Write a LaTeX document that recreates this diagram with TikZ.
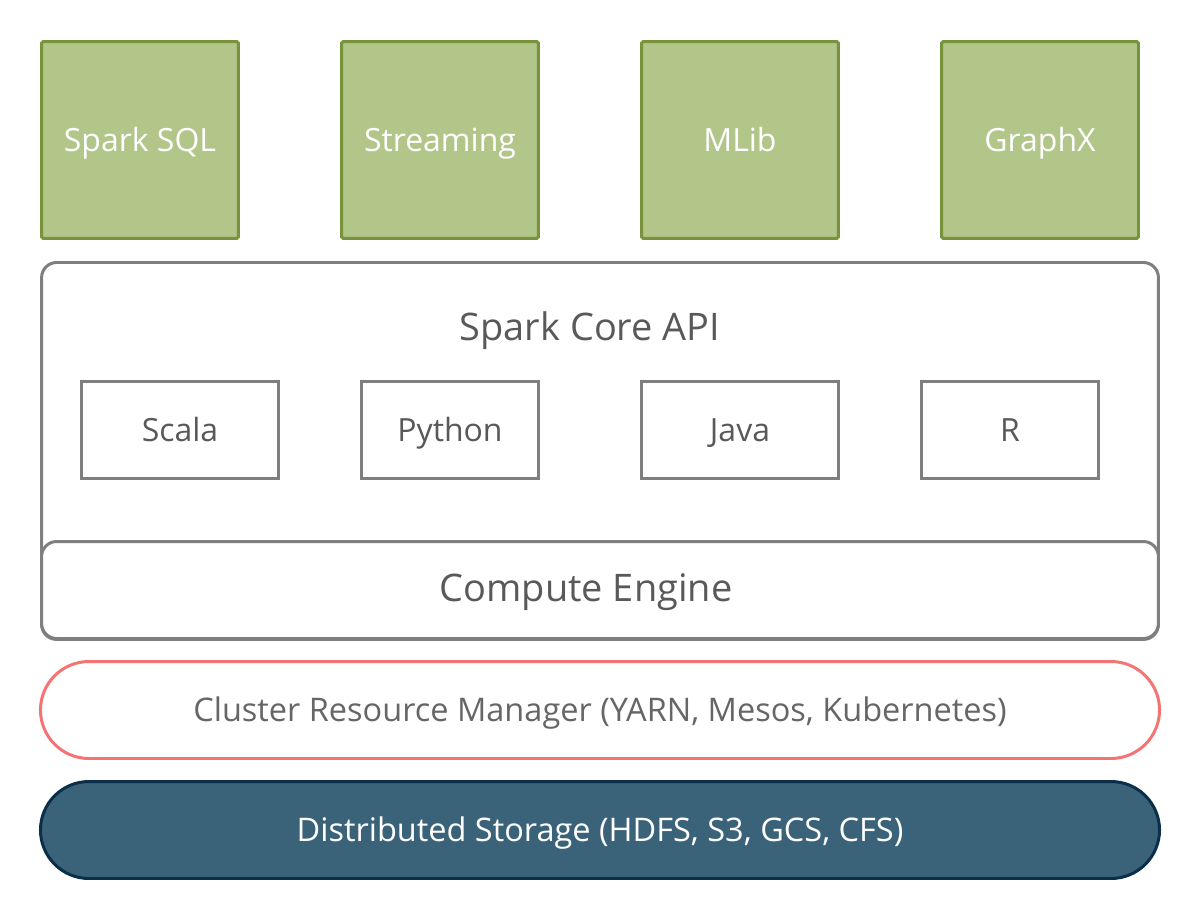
\documentclass[tikz,border=0pt]{standalone}
\usepackage{fontspec}
\setmainfont{Open Sans}
\usetikzlibrary{positioning,shapes.misc}
\definecolor{libfill}{HTML}{B3C68A}
\definecolor{libdraw}{HTML}{77933C}
\definecolor{coredraw}{HTML}{7F7F7F}
\definecolor{coretext}{HTML}{595959}
\definecolor{mgrdraw}{HTML}{F47474}
\definecolor{mgrtext}{HTML}{666666}
\definecolor{storefill}{HTML}{3A6278}
\definecolor{storedraw}{HTML}{0B2E4B}
\begin{document}
\begin{tikzpicture}[x=0.02cm,y=-0.02cm,
  lib/.style={rectangle, draw=libdraw, fill=libfill, line width=1.7pt, rounded corners=1pt, minimum width=3.94cm, minimum height=3.94cm, text=white, text height=1.55em, text depth=0.22em, font=\fontsize{18.2}{21}\selectfont},
  lang/.style={rectangle, draw=coredraw, line width=1.7pt, minimum height=1.94cm, text=coretext, text height=1.5em, text depth=0.22em, font=\fontsize{18.2}{21}\selectfont},
  layer/.style={rectangle, draw=coredraw, fill=white, line width=1.7pt, rounded corners=0.3cm, minimum width=22.34cm},
  caption/.style={text=coretext, text height=1.22em, text depth=0.24em, font=\fontsize{21.6}{25}\selectfont},
  band/.style={rounded rectangle, line width=1.7pt, minimum width=22.62cm, minimum height=1.94cm, text height=1.55em, text depth=0.25em, font=\fontsize{18.5}{22}\selectfont}]
	\useasboundingbox (0,0) rectangle (1200,920);
	\node[lib](sql) at (140,140){Spark SQL};
	\node[lib](stream) at (440,140){Streaming};
	\node[lib](mlib) at (740,140){MLib};
	\node[lib](graphx) at (1040,140){GraphX};
	\node[layer, minimum height=7.54cm, anchor=north](core) at (600,261){};
	\node[caption](api) at (590,332){Spark Core API};
	\node[lang, minimum width=3.94cm](scala) at (180,430){Scala};
	\node[lang, minimum width=3.54cm](python) at (450,430){Python};
	\node[lang, minimum width=3.94cm](java) at (740,430){Java};
	\node[lang, minimum width=3.54cm](r) at (1010,430){R};
	\node[layer, minimum height=1.94cm](engine) at (600,590){};
	\node[caption](enginelabel) at (586,593){Compute Engine};
	\node[band, draw=mgrdraw, fill=white, text=mgrtext](mgr) at (600,710){Cluster Resource Manager (YARN, Mesos, Kubernetes)};
	\node[band, draw=storedraw, fill=storefill, text=white](store) at (600,830){Distributed Storage (HDFS, S3, GCS, CFS)};
\end{tikzpicture}
\end{document}
